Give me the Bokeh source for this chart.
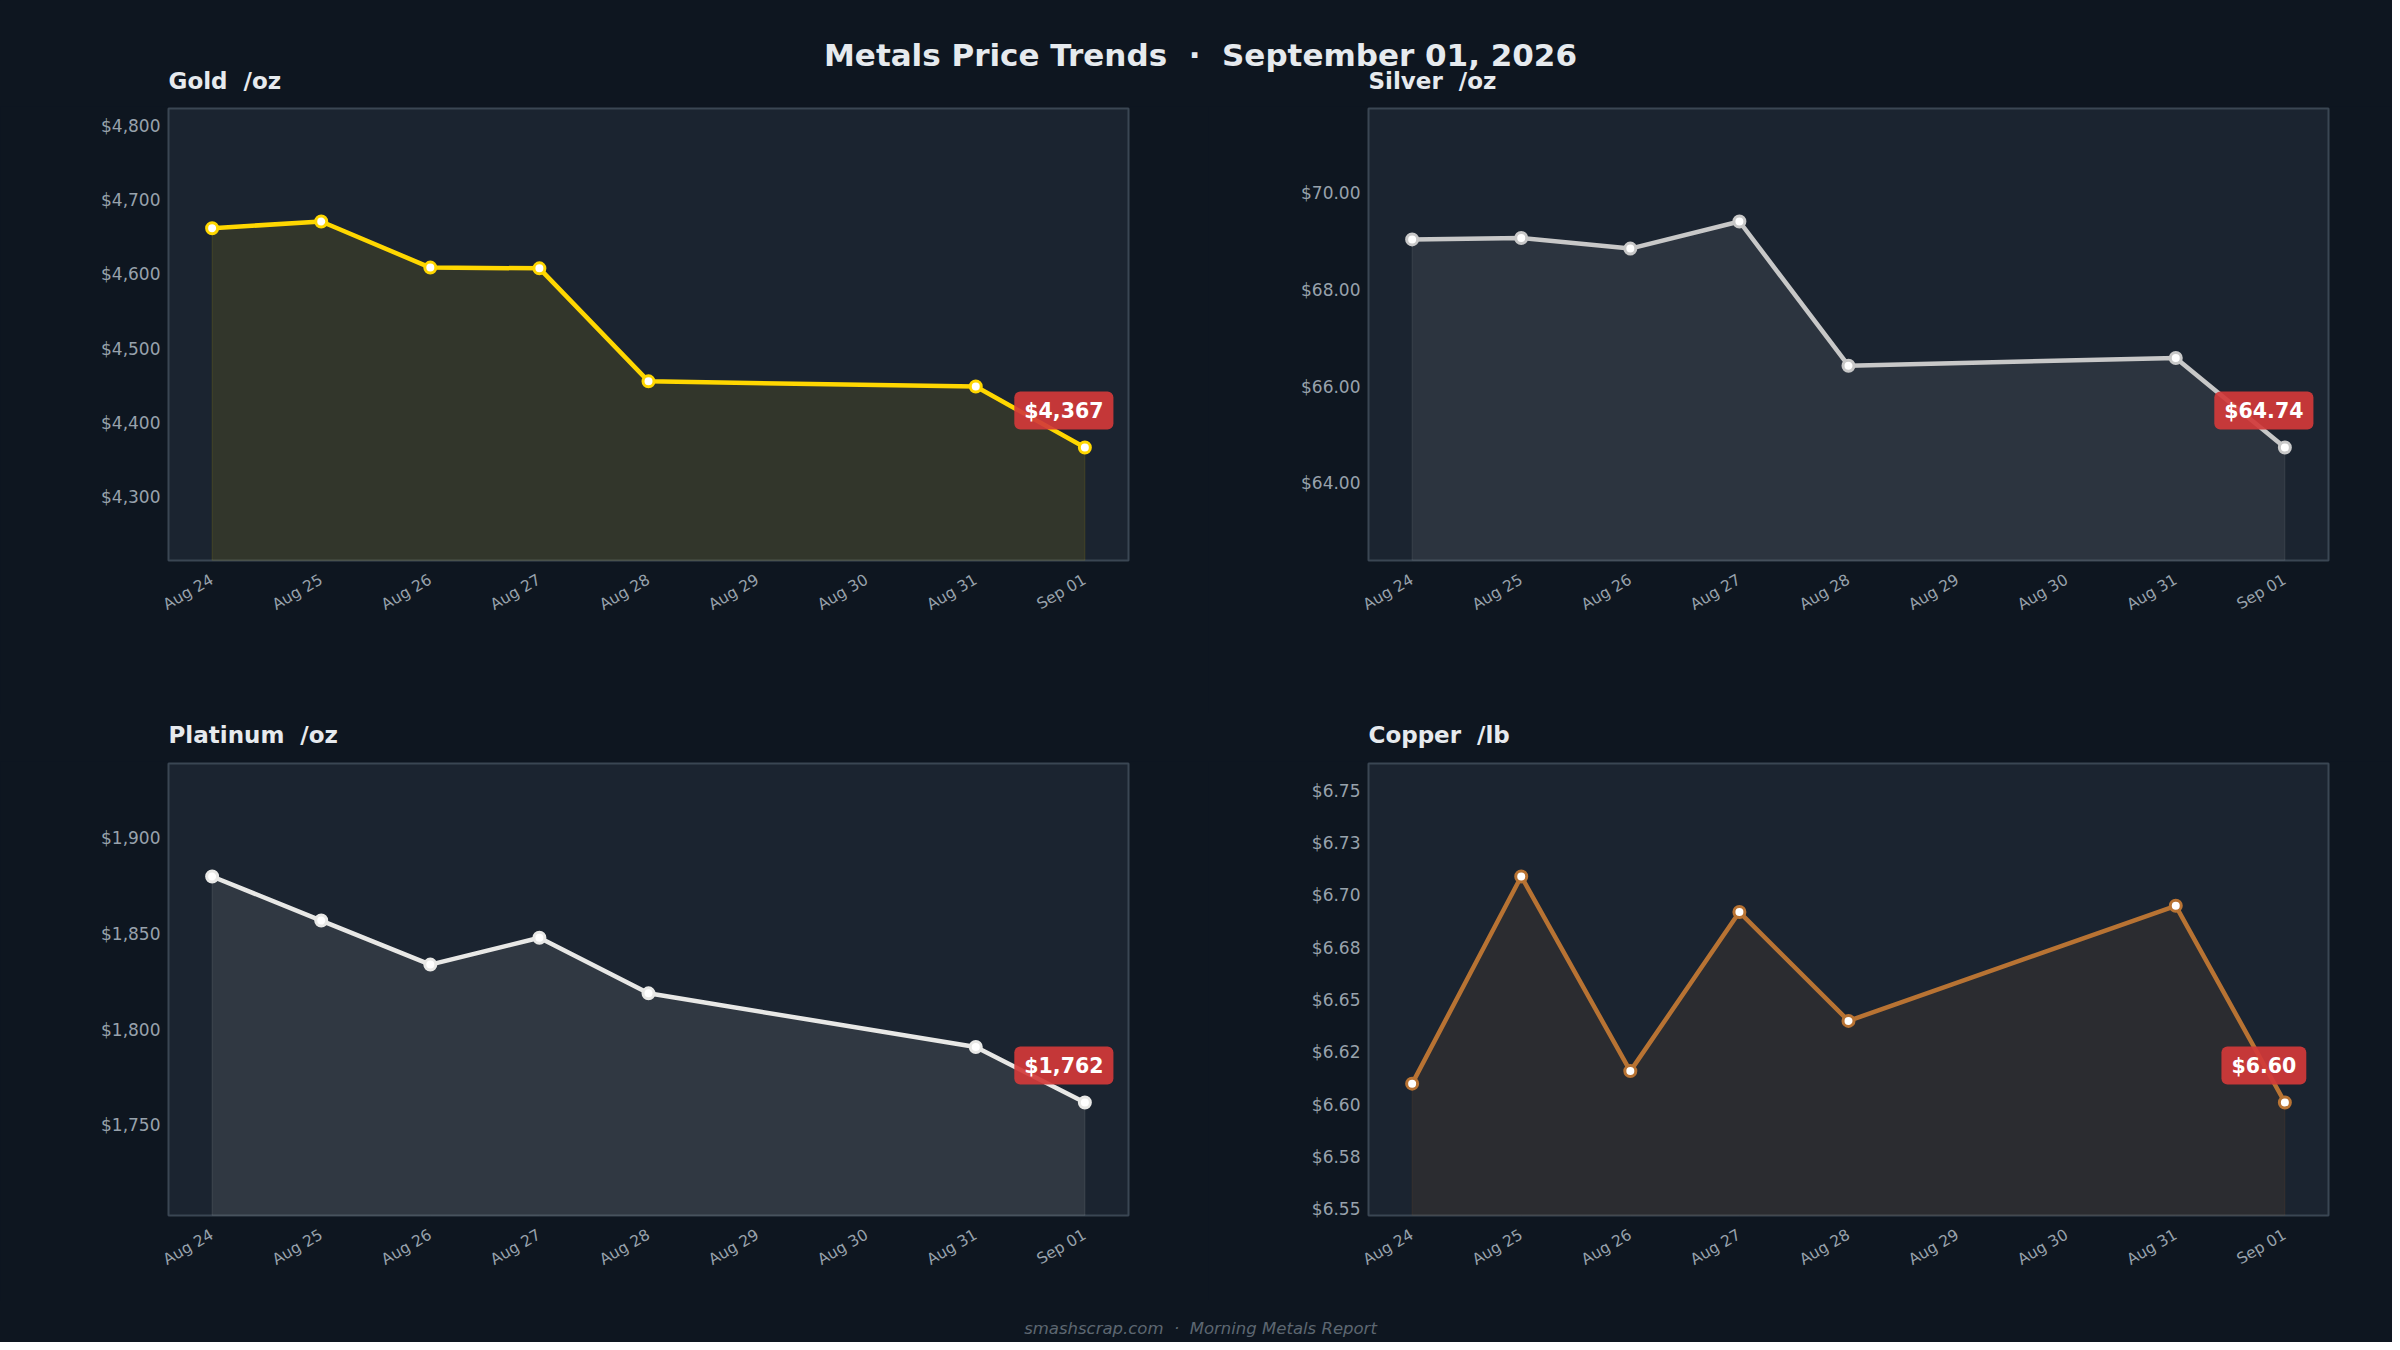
#Metals price trends: four small line/area panels on a dark page, drawn with bokeh
import math

import pandas as pd
from bokeh.plotting import figure
from bokeh.layouts import column, row
from bokeh.models import Range1d, FixedTicker, DatetimeTickFormatter, NumeralTickFormatter, Label
from bokeh.core.properties import value
from bokeh.embed import file_html
from bokeh.resources import INLINE

#### DATA ####
#trading days (no Aug 29 / Aug 30)
dates = ["2026-08-24", "2026-08-25", "2026-08-26", "2026-08-27",
         "2026-08-28", "2026-08-31", "2026-09-01"]

#daily tick positions on the x axis
tick_dates = ["2026-08-24", "2026-08-25", "2026-08-26", "2026-08-27", "2026-08-28",
              "2026-08-29", "2026-08-30", "2026-08-31", "2026-09-01"]

gold = [4662, 4671, 4609, 4608, 4456, 4449, 4367]
silver = [69.04, 69.07, 68.85, 69.41, 66.43, 66.59, 64.74]
platinum = [1880, 1857, 1834, 1848, 1819, 1791, 1762]
copper = [6.610, 6.709, 6.616, 6.692, 6.640, 6.695, 6.601]

gold_ticks = [4300, 4400, 4500, 4600, 4700, 4800]
silver_ticks = [64, 66, 68, 70]
platinum_ticks = [1750, 1800, 1850, 1900]
copper_ticks = [6.55, 6.575, 6.60, 6.625, 6.65, 6.675, 6.70, 6.725, 6.75]
copper_tick_labels = ["$6.55", "$6.58", "$6.60", "$6.62", "$6.65", "$6.68", "$6.70", "$6.73", "$6.75"]

#non-breaking spaces keep the wide gaps in the svg text
main_title = "Metals Price Trends \u00a0\u00b7\u00a0 September 01, 2026"
panel_titles = ["Gold \u00a0/oz", "Silver \u00a0/oz", "Platinum \u00a0/oz", "Copper \u00a0/lb"]
footer_text = "smashscrap.com \u00a0\u00b7\u00a0 Morning Metals Report"

#### STYLE ####
PAGE = "#0e1620"
PANEL = "#1b2430"
FRAME = "#3a4653"
TEXT = "#e6eaee"
TICK_TEXT = "#98a2ac"
FONT = "DejaVu Sans"
DAY = 86400000


def to_ms(strings):
    return [(pd.Timestamp(s) - pd.Timestamp("1970-01-01")) // pd.Timedelta(milliseconds=1) for s in strings]


x_ms = to_ms(dates)
tick_ms = to_ms(tick_dates)


def make_panel(vals, color, y_ticks, y_format, badge, width, border_left, border_right, height,
               border_bottom, tick_labels=None):
    lo, hi = min(vals), max(vals)
    pad = (hi - lo) * 0.5
    y0, y1 = lo - pad, hi + pad

    p = figure(width=width, height=height, x_axis_type="datetime",
               x_range=Range1d(x_ms[0] - 0.4 * DAY, x_ms[-1] + 0.4 * DAY),
               y_range=Range1d(y0, y1),
               output_backend="svg", toolbar_location=None,
               min_border_left=border_left, min_border_right=border_right,
               min_border_top=2, min_border_bottom=border_bottom,
               background_fill_color=PANEL, border_fill_color=PAGE,
               outline_line_color=FRAME, outline_line_width=2)
    p.title.visible = False
    p.grid.visible = False

    #area under the line, down to the bottom of the frame
    p.patch(x_ms + x_ms[::-1], vals + [y0] * len(vals),
            fill_color=color, fill_alpha=0.1, line_color=color, line_alpha=0.12, line_width=1)
    p.line(x_ms, vals, line_color=color, line_width=4.5)
    p.scatter(x_ms, vals, size=11, fill_color="white", line_color=color, line_width=3)

    #red badge with the latest price
    p.add_layout(Label(x=x_ms[-1], y=vals[-1], text=badge, x_offset=-21, y_offset=37,
                       text_align="center", text_baseline="middle",
                       text_font=FONT, text_font_size="20.5px", text_font_style="bold",
                       text_color="white", background_fill_color="#d23a3a",
                       background_fill_alpha=0.92, border_radius=6, padding=(10, 7)))

    p.xaxis.ticker = FixedTicker(ticks=tick_ms)
    p.xaxis.formatter = DatetimeTickFormatter(days="%b %d", hours="%b %d", months="%b %d")
    p.xaxis.major_label_orientation = math.pi / 6
    p.xaxis.major_label_text_font_size = "15.5px"
    p.xaxis.major_label_standoff = 18

    p.yaxis.ticker = FixedTicker(ticks=y_ticks)
    if tick_labels is not None:
        p.yaxis.major_label_overrides = dict(zip(y_ticks, tick_labels))
    else:
        p.yaxis.formatter = NumeralTickFormatter(format=y_format)
    p.yaxis.major_label_text_font_size = "17px"
    p.yaxis.major_label_standoff = 8

    for ax in p.axis:
        ax.axis_line_color = None
        ax.major_tick_line_color = None
        ax.minor_tick_line_color = None
        ax.major_tick_out = 0
        ax.major_tick_in = 0
        ax.minor_tick_out = 0
        ax.major_label_text_color = TICK_TEXT
        ax.major_label_text_font = FONT
    return p


def text_strip(width, height):
    s = figure(width=width, height=height, x_range=Range1d(0, width), y_range=Range1d(0, height),
               output_backend="svg", toolbar_location=None,
               x_axis_location=None, y_axis_location=None, min_border=0,
               background_fill_color=PAGE, border_fill_color=PAGE, outline_line_color=None)
    s.title.visible = False
    s.grid.visible = False
    return s


#### PANELS ####
gold_plot = make_panel(gold, "#ffd700", gold_ticks, "$0,0", "${:,.0f}".format(gold[-1]),
                       1208, 168, 80, 607, 153)
silver_plot = make_panel(silver, "#c8c8c8", silver_ticks, "$0.00", "${:.2f}".format(silver[-1]),
                         1184, 160, 64, 607, 153)
platinum_plot = make_panel(platinum, "#e8e8e6", platinum_ticks, "$0,0", "${:,.0f}".format(platinum[-1]),
                           1208, 168, 80, 539, 85)
copper_plot = make_panel(copper, "#b87333", copper_ticks, "$0.00", "${:.2f}".format(copper[-1]),
                         1184, 160, 64, 539, 85, tick_labels=copper_tick_labels)

#### TITLES ####
header = text_strip(2392, 106)
header.text(x=[1200], y=[52], text=[main_title], text_align="center", text_baseline="alphabetic",
            text_font=value(FONT), text_font_size="31px", text_font_style="bold", text_color=TEXT)
header.text(x=[168, 1368], y=[26, 26], text=panel_titles[:2],
            text_align="left", text_baseline="alphabetic",
            text_font=value(FONT), text_font_size="23px", text_font_style="bold", text_color=TEXT)

middle = text_strip(2392, 48)
middle.text(x=[168, 1368], y=[27, 27], text=panel_titles[2:],
            text_align="left", text_baseline="alphabetic",
            text_font=value(FONT), text_font_size="23px", text_font_style="bold", text_color=TEXT)

footer = text_strip(2392, 42)
footer.text(x=[1200], y=[14], text=[footer_text], text_align="center", text_baseline="middle",
            text_font=value(FONT), text_font_size="16.5px", text_font_style="italic", text_color="#5d6771")

page = column(header, row(gold_plot, silver_plot), middle, row(platinum_plot, copper_plot), footer,
              background=PAGE)

open("out.html", "w").write(file_html(page, INLINE))
